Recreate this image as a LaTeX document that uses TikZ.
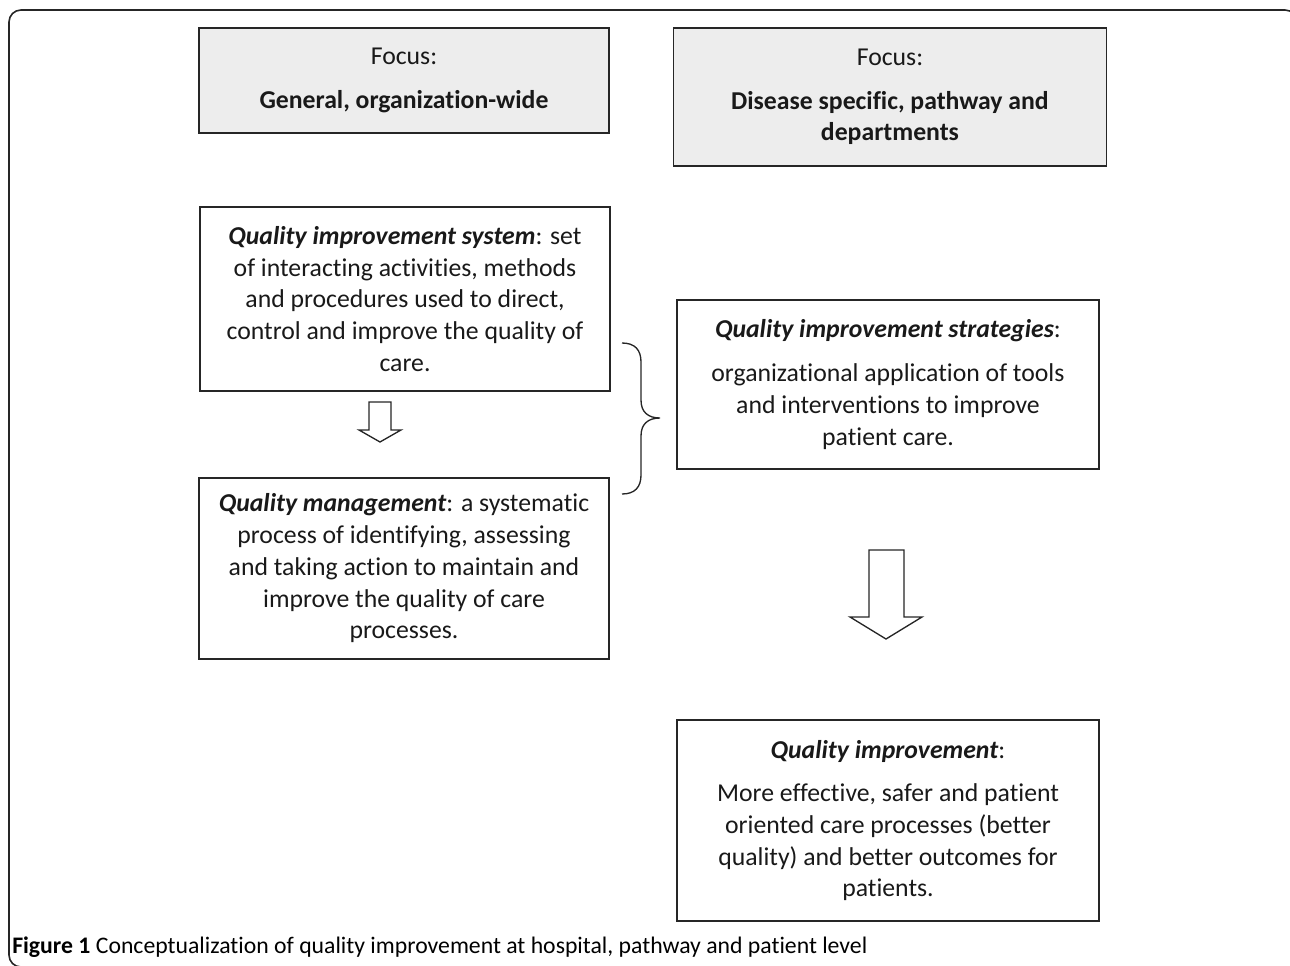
\documentclass[tikz,border=0pt]{standalone}
\usepackage{fontspec}
\setmainfont{Carlito}[Ligatures={NoCommon,TeX}]
\usetikzlibrary{positioning, calc}

\begin{document}
\begin{tikzpicture}[
    x=0.75pt, y=-0.75pt,
    font=\fontsize{19.3}{23.8}\selectfont,
    box/.style={draw=black!85, line width=1.1pt, align=center, inner sep=0pt, text=black!90},
    focusbox/.style={box, fill=black!7},
    blockarrow/.style={draw=black!85, line width=1pt, fill=white, line join=miter},
    frame/.style={draw=black!85, line width=1.2pt, rounded corners=9pt}
]
    \useasboundingbox (0,0) rectangle (1290,965);

    % Frame
    \draw[frame] (1297,40) -- (1297,10) -- (9,10) -- (9,967) -- (40,967);

    % Focus headers
    \node[focusbox, minimum width=307.5pt, minimum height=78.75pt] (genfocus) at (404,80.5)
        {Focus:\\[9pt]\textbf{General, organization-wide}};
    \node[focusbox, minimum width=324.75pt, minimum height=103.5pt, right=47.25pt of genfocus.north east, anchor=north west] (disfocus)
        {Focus:\\[9pt]\textbf{Disease specific, pathway and}\\\textbf{departments}};

    % Left column
    \node[box, minimum width=307.5pt, minimum height=138pt] (qis) at (405,299)
        {\textbf{\textit{Quality improvement system}}: set\\of interacting activities, methods\\and procedures used to direct,\\control and improve the quality of\\care.};
    \node[box, minimum width=307.5pt, minimum height=135.75pt] (qm) at (404,568.5)
        {\textbf{\textit{Quality management}}: a systematic\\process of identifying, assessing\\and taking action to maintain and\\improve the quality of care\\processes.};

    % Right column
    \node[box, minimum width=316.5pt, minimum height=126.75pt] (qistrat) at (888,384.5)
        {\textbf{\textit{Quality improvement strategies}}:\\[9pt]organizational application of tools\\and interventions to improve\\patient care.};
    \node[box, minimum width=316.5pt, minimum height=150.75pt] (qi) at (888,820.5)
        {\textbf{\textit{Quality improvement}}:\\[9pt]More effective, safer and patient\\oriented care processes (better\\quality) and better outcomes for\\patients.};

    % Block arrows
    \draw[blockarrow] (369,402) -- (391,402) -- (391,430) -- (401,430) -- (380,442) -- (359,430) -- (369,430) -- cycle;
    \draw[blockarrow] (869,550) -- (904,550) -- (904,617) -- (922,617) -- (886,639) -- (850,617) -- (869,617) -- cycle;

    % Brace
    \draw[line width=1pt, black!85] (622,343) .. controls (635,343) and (641,350) .. (641,362) -- (641,400)
        .. controls (641,412) and (648,418) .. (660,418) .. controls (648,418) and (641,424) .. (641,436)
        -- (641,475) .. controls (641,487) and (635,494) .. (622,494);

    % Caption
    \node[anchor=base west, inner sep=0pt, font=\fontsize{17.8}{20}\selectfont] (caption) at (12,953)
        {\textbf{Figure 1} Conceptualization of quality improvement at hospital, pathway and patient level};
\end{tikzpicture}
\end{document}
